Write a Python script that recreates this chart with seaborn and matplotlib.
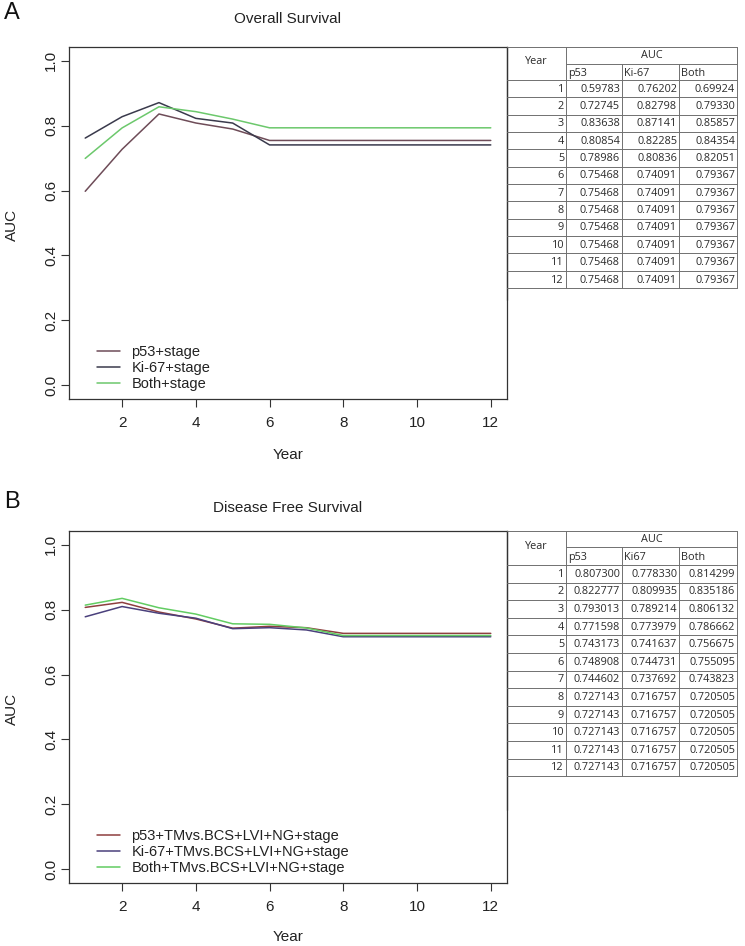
import pandas as pd
import matplotlib
matplotlib.use("Agg")
import matplotlib.pyplot as plt
import seaborn as sns

years = list(range(1, 13))

os_p53 = [0.59783, 0.72745, 0.83638, 0.80854, 0.78986, 0.75468,
          0.75468, 0.75468, 0.75468, 0.75468, 0.75468, 0.75468]
os_ki67 = [0.76202, 0.82798, 0.87141, 0.82285, 0.80836, 0.74091,
           0.74091, 0.74091, 0.74091, 0.74091, 0.74091, 0.74091]
os_both = [0.69924, 0.79330, 0.85857, 0.84354, 0.82051, 0.79367,
           0.79367, 0.79367, 0.79367, 0.79367, 0.79367, 0.79367]

dfs_p53 = [0.807300, 0.822777, 0.793013, 0.771598, 0.743173, 0.748908,
           0.744602, 0.727143, 0.727143, 0.727143, 0.727143, 0.727143]
dfs_ki67 = [0.778330, 0.809935, 0.789214, 0.773979, 0.741637, 0.744731,
            0.737692, 0.716757, 0.716757, 0.716757, 0.716757, 0.716757]
dfs_both = [0.814299, 0.835186, 0.806132, 0.786662, 0.756675, 0.755095,
            0.743823, 0.720505, 0.720505, 0.720505, 0.720505, 0.720505]

os_labels = ["p53+stage", "Ki-67+stage", "Both+stage"]
dfs_labels = ["p53+TMvs.BCS+LVI+NG+stage", "Ki-67+TMvs.BCS+LVI+NG+stage",
              "Both+TMvs.BCS+LVI+NG+stage"]
os_cols = ["p53", "Ki-67", "Both"]
dfs_cols = ["p53", "Ki67", "Both"]

os_colors = ["#6e4c58", "#3a3a4c", "#6cc86c"]
dfs_colors = ["#8e3f3f", "#4a407c", "#62cc62"]

sns.set_style("white")
plt.rcParams["font.family"] = ["Liberation Sans", "DejaVu Sans"]

W, H = 745, 946
fig = plt.figure(figsize=(W / 100, H / 100), dpi=100)

# overlay in pixel coordinates for the tables and free text
ov = fig.add_axes([0, 0, 1, 1], zorder=5)
ov.set_xlim(0, W)
ov.set_ylim(H, 0)
ov.axis("off")
ov.patch.set_alpha(0)


def panel(top, bottom, series, labels, colors, title, letter, title_y, xlab_y):
    ax = fig.add_axes([69 / W, 1 - bottom / H, (507 - 69) / W, (bottom - top) / H])
    long = pd.DataFrame({
        "Year": years * 3,
        "AUC": series[0] + series[1] + series[2],
        "model": [labels[0]] * 12 + [labels[1]] * 12 + [labels[2]] * 12,
    })
    sns.lineplot(data=long, x="Year", y="AUC", hue="model", hue_order=labels,
                 palette=colors, linewidth=1.1, ax=ax)
    ax.set_xlim(0.56, 12.44)
    ax.set_ylim(-0.043, 1.043)
    ax.set_xticks([2, 4, 6, 8, 10, 12])
    ax.set_yticks([0.0, 0.2, 0.4, 0.6, 0.8, 1.0])
    ax.set_yticklabels(["0.0", "0.2", "0.4", "0.6", "0.8", "1.0"])
    ax.tick_params(axis="both", direction="out", length=6, width=0.8,
                   color="#333333", labelsize=11, labelcolor="#222222",
                   left=True, bottom=True)
    ax.tick_params(axis="x", pad=6.5)
    ax.tick_params(axis="y", pad=2)
    for lab in ax.get_yticklabels():
        lab.set_rotation(90)
        lab.set_va("center")
    for s in ax.spines.values():
        s.set_color("#333333")
        s.set_linewidth(0.9)
    ax.set_xlabel("")
    ax.set_ylabel("")
    leg = ax.legend(loc="upper left", bbox_to_anchor=(0.064, 0.153),
                    frameon=False, fontsize=10.5, handlelength=1.6,
                    handletextpad=0.75, labelspacing=0.12, borderpad=0,
                    borderaxespad=0)
    for t in leg.get_texts():
        t.set_color("#222222")
    ov.text(288, title_y, title, ha="center", va="center", fontsize=11,
            color="#222222")
    ov.text(4, title_y - 6, letter, ha="left", va="center", fontsize=17,
            color="#111111")
    ov.text(288, xlab_y, "Year", ha="center", va="center", fontsize=11,
            color="#222222")
    ov.text(12, (top + bottom) / 2 + 2, "AUC", ha="center", va="center",
            rotation=90, fontsize=11, color="#222222")
    return ax


def table(top, sub, head, row_h, line_end, cols, values, fmt):
    xs = [507, 566, 622, 679, 737]
    gc = "#707070"
    tf = ["Open Sans", "DejaVu Sans"]
    fs = 7.8
    tc = "#2a2a2a"
    # left edge continues the plot frame
    ov.plot([507, 507], [top, line_end], color="#333333", lw=0.9)
    ov.plot([xs[0], xs[-1]], [top, top], color=gc, lw=0.7)
    ov.plot([xs[1], xs[-1]], [sub, sub], color=gc, lw=0.7)
    bottom = head + row_h * len(years)
    for x in xs[1:]:
        y0 = top if x in (xs[1], xs[-1]) else sub
        ov.plot([x, x], [y0, bottom], color=gc, lw=0.7)
    for i in range(len(years) + 1):
        y = head + i * row_h
        ov.plot([xs[0], xs[-1]], [y, y], color=gc, lw=0.7)
    ov.text((xs[0] + xs[1]) / 2, (top + head) / 2 - 2, "Year", ha="center",
            va="center", fontsize=fs, family=tf, color=tc)
    ov.text((xs[1] + xs[-1]) / 2, (top + sub) / 2, "AUC", ha="center",
            va="center", fontsize=fs, family=tf, color=tc)
    for j, c in enumerate(cols):
        ov.text(xs[j + 1] + 2, (sub + head) / 2 + 1.5, c, ha="left",
                va="center", fontsize=fs, family=tf, color=tc)
    for i, yr in enumerate(years):
        yc = head + (i + 0.5) * row_h + 0.5
        ov.text(xs[1] - 2, yc, str(yr), ha="right", va="center",
                fontsize=fs, family=tf, color=tc)
        for j, vals in enumerate(values):
            ov.text(xs[j + 2] - 2, yc, fmt.format(vals[i]), ha="right",
                    va="center", fontsize=fs, family=tf, color=tc)


panel(47, 399, [os_p53, os_ki67, os_both], os_labels, os_colors,
      "Overall Survival", "A", 19, 455)
table(47, 64, 80, 17.35, 300, os_cols, [os_p53, os_ki67, os_both], "{:.5f}")

panel(531, 883, [dfs_p53, dfs_ki67, dfs_both], dfs_labels, dfs_colors,
      "Disease Free Survival", "B", 508, 937)
table(531, 547, 565, 17.6, 810, dfs_cols, [dfs_p53, dfs_ki67, dfs_both], "{:.6f}")

fig.savefig("out.png", dpi=100, facecolor="white")
